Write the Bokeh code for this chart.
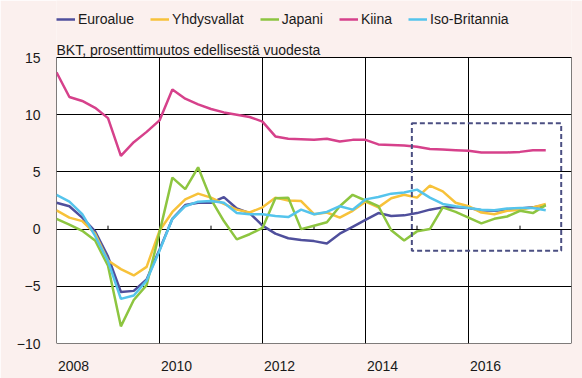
from bokeh.plotting import figure
from bokeh.models import (Legend, LegendItem, FixedTicker, Range1d, BoxAnnotation,
                          NumeralTickFormatter, Label)
from bokeh.embed import file_html
from bokeh.resources import INLINE

# Quarterly data, 2007Q4 .. 2017Q2 (each quarter plotted at its end)
quarters = ["2007Q4",
            "2008Q1", "2008Q2", "2008Q3", "2008Q4",
            "2009Q1", "2009Q2", "2009Q3", "2009Q4",
            "2010Q1", "2010Q2", "2010Q3", "2010Q4",
            "2011Q1", "2011Q2", "2011Q3", "2011Q4",
            "2012Q1", "2012Q2", "2012Q3", "2012Q4",
            "2013Q1", "2013Q2", "2013Q3", "2013Q4",
            "2014Q1", "2014Q2", "2014Q3", "2014Q4",
            "2015Q1", "2015Q2", "2015Q3", "2015Q4",
            "2016Q1", "2016Q2", "2016Q3", "2016Q4",
            "2017Q1", "2017Q2"]

euroalue = [2.3, 2.0, 1.0, -0.2, -2.4, -5.5, -5.4, -4.4, -1.8, 0.9,
            2.1, 2.3, 2.3, 2.8, 1.8, 1.4, 0.3, -0.4, -0.8, -0.95,
            -1.05, -1.25, -0.4, 0.2, 0.8, 1.4, 1.15, 1.2, 1.4, 1.7,
            1.9, 1.9, 1.85, 1.65, 1.6, 1.7, 1.8, 1.9, 2.1]
yhdysvallat = [1.65, 1.0, 0.7, -0.4, -2.75, -3.5, -4.05, -3.3, -0.15, 1.5,
               2.6, 3.1, 2.75, 2.2, 1.7, 1.45, 1.9, 2.75, 2.5, 2.45,
               1.3, 1.45, 1.0, 1.6, 2.4, 1.9, 2.7, 3.0, 2.75, 3.8,
               3.3, 2.3, 2.0, 1.45, 1.3, 1.6, 1.7, 1.9, 2.2]
japani = [0.9, 0.4, -0.15, -1.0, -3.2, -8.5, -6.2, -4.9, -0.3, 4.5,
          3.5, 5.4, 2.6, 0.7, -0.9, -0.45, 0.1, 2.7, 2.75, 0.0,
          0.3, 0.6, 2.0, 3.0, 2.5, 2.0, -0.1, -1.0, -0.2, 0.0,
          1.9, 1.5, 1.0, 0.5, 0.9, 1.1, 1.6, 1.4, 2.1]
kiina = [13.7, 11.55, 11.2, 10.6, 9.7, 6.4, 7.6, 8.5, 9.5, 12.2,
         11.4, 10.9, 10.5, 10.2, 10.0, 9.8, 9.4, 8.1, 7.9, 7.85,
         7.8, 7.9, 7.65, 7.8, 7.8, 7.4, 7.35, 7.3, 7.2, 7.0,
         6.95, 6.9, 6.85, 6.7, 6.7, 6.7, 6.75, 6.9, 6.9]
iso_britannia = [3.0, 2.4, 1.3, -0.6, -2.8, -6.1, -5.8, -4.5, -1.9, 0.9,
                 2.0, 2.4, 2.45, 2.3, 1.4, 1.3, 1.3, 1.15, 1.05, 1.7,
                 1.3, 1.5, 2.0, 1.7, 2.6, 2.8, 3.1, 3.2, 3.45, 2.75,
                 2.2, 2.0, 1.85, 1.7, 1.65, 1.8, 1.85, 1.85, 1.65]

series_names = ["Euroalue", "Yhdysvallat", "Japani", "Kiina", "Iso-Britannia"]
series_values = [euroalue, yhdysvallat, japani, kiina, iso_britannia]
series_colors = ["#4f4f9c", "#f7c23a", "#8dc540", "#d6418b", "#55c4ec"]

subtitle = "BKT, prosenttimuutos edellisestä vuodesta"
year_labels = [2008, 2010, 2012, 2014, 2016]
grid_years = [2010, 2012, 2014, 2016]
minor_tick_years = [2009, 2011, 2013, 2015, 2017]
y_ticks = [-10, -5, 0, 5, 10, 15]
x_min, x_max = 2008, 2018
y_min, y_max = -10, 15
highlight = dict(left=2014.9, right=2017.8, top=9.25, bottom=-1.9)

def quarter_to_x(q):
    return int(q[:4]) + int(q[-1]) * 0.25

xs = [quarter_to_x(q) for q in quarters]

# layout (pixels)
W, H = 582, 378
plot_left, plot_right = 56, 571
plot_top, plot_bottom = 57, 343
px_per_unit = (plot_bottom - plot_top) / (y_max - y_min)
frame_y_top = y_max + plot_top / px_per_unit   # frame reaches canvas top

FONT = "Liberation Sans"
BG = "#fbf0ee"
TXT = "#1a1a1a"

p = figure(width=W, height=H, output_backend="svg", toolbar_location=None,
           x_range=Range1d(x_min, x_max), y_range=Range1d(y_min, frame_y_top),
           min_border_left=plot_left, min_border_right=W - plot_right,
           min_border_top=0, min_border_bottom=H - plot_bottom)
p.background_fill_color = BG
p.border_fill_color = BG
p.outline_line_color = None

# white plotting area with black border
p.add_layout(BoxAnnotation(left=x_min, right=x_max, bottom=y_min, top=y_max,
                           fill_color="white", fill_alpha=1, line_color="black",
                           line_alpha=1, line_width=1, level="image"))

# grid
p.xgrid.ticker = FixedTicker(ticks=grid_years)
p.xgrid.cross_bounds = (y_min, y_max)
p.ygrid.ticker = FixedTicker(ticks=y_ticks)
p.ygrid.cross_bounds = (x_min, x_max)
p.grid.grid_line_color = "black"
p.grid.grid_line_width = 1
p.grid.grid_line_alpha = 1

# axes
label_shift = 0.33
p.xaxis.ticker = FixedTicker(ticks=[y + label_shift for y in year_labels])
p.xaxis.formatter = NumeralTickFormatter(format="0")
p.yaxis.ticker = FixedTicker(ticks=y_ticks)
for ax in (p.xaxis, p.yaxis):
    ax.axis_line_color = None
    ax.major_tick_line_color = None
    ax.minor_tick_line_color = None
    ax.major_tick_out = 0
    ax.major_tick_in = 0
    ax.minor_tick_out = 0
    ax.minor_tick_in = 0
    ax.major_label_text_font = FONT
    ax.major_label_text_font_size = "14px"
    ax.major_label_text_color = TXT
p.xaxis.major_label_standoff = 17
p.yaxis.major_label_standoff = 16

# small ticks on the zero line at odd years
p.segment(x0=minor_tick_years, y0=[0] * len(minor_tick_years),
          x1=minor_tick_years, y1=[0.3] * len(minor_tick_years),
          line_color="black", line_width=1)

items = []
for name, vals, col in zip(series_names, series_values, series_colors):
    r = p.line(xs, vals, line_color=col, line_width=2.5)
    items.append(LegendItem(label=name, renderers=[r]))

p.add_layout(BoxAnnotation(fill_alpha=0, line_color="#4b4f82", line_alpha=1,
                           line_width=2, line_dash="5 3", **highlight))

# subtitle just above the plotting area
p.add_layout(Label(x=x_min, y=y_max, text=subtitle, text_baseline="bottom",
                   text_align="left", text_font=FONT, text_font_size="14px",
                   text_color=TXT))

legend_center_px = 19
legend = Legend(items=items, orientation="horizontal",
                location=(0, plot_bottom - legend_center_px - 10),
                padding=0, margin=0, spacing=16, glyph_width=19, glyph_height=20,
                label_height=20, label_standoff=3, label_text_font=FONT,
                label_text_font_size="14px", label_text_color=TXT,
                background_fill_alpha=0, border_line_alpha=0)
p.add_layout(legend, "center")

open("out.html", "w").write(file_html(p, INLINE))
